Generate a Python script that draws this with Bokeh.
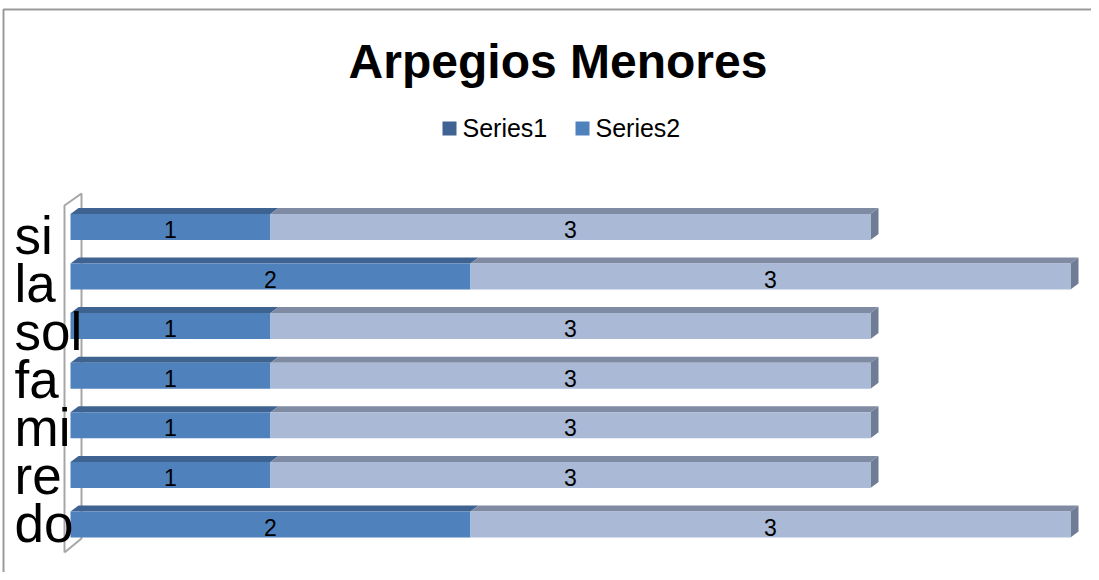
from bokeh.plotting import figure
from bokeh.models import Range1d, Label
from bokeh.core.properties import value
from bokeh.embed import file_html
from bokeh.resources import INLINE

# ---- data ----
categories = ["do", "re", "mi", "fa", "sol", "la", "si"]
series1 = [2, 1, 1, 1, 1, 2, 1]
series2 = [3, 3, 3, 3, 3, 3, 3]
series_names = ["Series1", "Series2"]
title_text = "Arpegios Menores"

# ---- styling ----
FONT = "Liberation Sans"
S1_FRONT, S1_TOP = "#4f81bd", "#3e6391"
S2_FRONT, S2_TOP, S2_SIDE = "#aab9d6", "#7f8ba3", "#6f7c95"
LEG1, LEG2 = "#3f6494", "#4f81bd"

W, H = 1091, 572
XPX = 200.0   # px per value unit
YPX = 49.6    # px per category
X0PX = 70.0   # px of value 0
Y0PX = 524.0  # px of first category centre

def px_x(px):
    return (px - X0PX) / XPX

def px_y(py):
    return (Y0PX - py) / YPX

p = figure(width=W, height=H, output_backend="svg", toolbar_location=None,
           x_range=Range1d(px_x(0), px_x(W)), y_range=Range1d(px_y(H), px_y(0)),
           min_border=0, min_border_left=0, min_border_right=0,
           min_border_top=0, min_border_bottom=0)
p.axis.visible = False
p.grid.visible = False
p.outline_line_color = None
p.background_fill_color = "white"
p.border_fill_color = "white"

# chart border (left and top visible)
p.line([px_x(3), px_x(3), px_x(W)], [px_y(H), px_y(9), px_y(9)],
       line_color="#9a9a9a", line_width=2)

hh = 13 / YPX            # half height of front face
dx, dy = 8 / XPX, 6 / YPX  # 3D depth offset

ys = list(range(len(categories)))
x1_end = series1
x2_end = [a + b for a, b in zip(series1, series2)]

# left wall
wl, wr = px_x(64), px_x(81)
p.line([wl, wl, wr, wr, wl],
       [px_y(552), px_y(205), px_y(193), px_y(538), px_y(552)],
       line_color="#a6a6a6", line_width=2)

# top faces
def top_face(x0s, x1s):
    xs, yy = [], []
    for a, b, y in zip(x0s, x1s, ys):
        xs.append([a, b, b + dx, a + dx])
        yy.append([y + hh, y + hh, y + hh + dy, y + hh + dy])
    return xs, yy

zeros = [0] * len(categories)
xs, yy = top_face(zeros, x1_end)
p.patches(xs, yy, fill_color=S1_TOP, line_color=None)
xs, yy = top_face(x1_end, x2_end)
p.patches(xs, yy, fill_color=S2_TOP, line_color=None)

# side faces at bar ends
sx, sy = [], []
for e, y in zip(x2_end, ys):
    sx.append([e, e + dx, e + dx, e])
    sy.append([y - hh, y - hh + dy, y + hh + dy, y + hh])
p.patches(sx, sy, fill_color=S2_SIDE, line_color=None)

# front faces
p.hbar(y=ys, left=0, right=x1_end, height=2 * hh, fill_color=S1_FRONT, line_color=None)
p.hbar(y=ys, left=x1_end, right=x2_end, height=2 * hh, fill_color=S2_FRONT, line_color=None)

# data labels
mid1 = [v / 2 for v in series1]
mid2 = [a + b / 2 for a, b in zip(series1, series2)]
ylab = [y - 2.5 / YPX for y in ys]
p.text(x=mid1, y=ylab, text=[str(v) for v in series1], text_align="center",
       text_baseline="middle", text_font=value(FONT), text_font_size="23px", text_color="black")
p.text(x=mid2, y=ylab, text=[str(v) for v in series2], text_align="center",
       text_baseline="middle", text_font=value(FONT), text_font_size="23px", text_color="black")

# category labels (axis labels are spaced slightly tighter than the bars)
LAB_SPACING = 48.0
lab_y = [(Y0PX - 522.6 + i * LAB_SPACING) / YPX for i in ys]
p.text(x=[px_x(14)] * len(categories), y=lab_y, text=categories,
       text_align="left", text_baseline="middle", text_font=value(FONT),
       text_font_size="53px", text_color="black")

# title
p.add_layout(Label(x=px_x(557.5), y=px_y(60.5), text=title_text, text_align="center",
                   text_baseline="middle", text_font=FONT, text_font_size="48px",
                   text_font_style="bold", text_color="black"))

# legend
sq_px = [449, 582]
txt_px = [462, 595]
leg_c = [LEG1, LEG2]
p.rect(x=[px_x(v) for v in sq_px], y=[px_y(128)] * 2, width=14 / XPX, height=14 / YPX,
       fill_color=leg_c, line_color=None)
p.text(x=[px_x(v) for v in txt_px], y=[px_y(127)] * 2, text=series_names,
       text_align="left", text_baseline="middle", text_font=value(FONT),
       text_font_size="25px", text_color="black")

open("out.html", "w").write(file_html(p, INLINE))
